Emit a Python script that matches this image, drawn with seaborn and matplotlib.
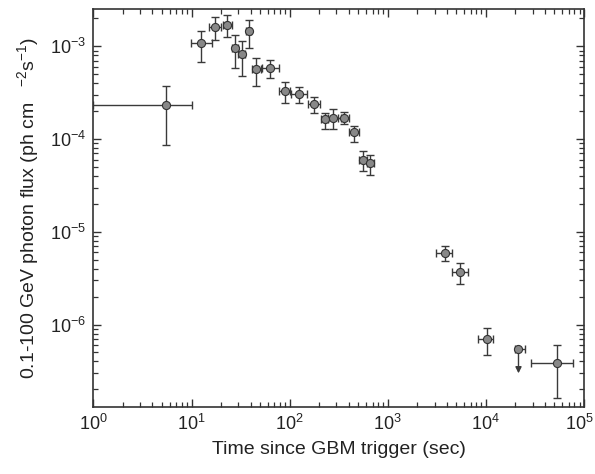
import matplotlib
matplotlib.use("Agg")
import matplotlib.pyplot as plt
import matplotlib.transforms as mtransforms
import seaborn as sns
import pandas as pd
import numpy as np

# detections: time since trigger (sec) with bin edges, flux with 1-sigma bounds
time = [5.55, 12.6, 17.5, 22.8, 27.5, 32.7, 38.3, 45.5, 63.4, 88.9, 126, 178,
        229, 279, 356, 454, 554, 663, 3790, 5450, 10300, 52500]
time_lo = [1.0, 9.95, 15.2, 20.7, 25.6, 30.0, 35.9, 41.0, 52.0, 77.0, 104, 154,
           208, 248, 314, 404, 504, 608, 3080, 4510, 8400, 29000]
time_hi = [10.0, 16.0, 20.2, 25.6, 30.0, 35.3, 40.4, 51.2, 77.0, 102, 152, 205,
           248, 334, 404, 511, 608, 723, 4480, 6530, 11900, 76400]
flux = [2.32e-4, 1.08e-3, 1.63e-3, 1.70e-3, 9.6e-4, 8.3e-4, 1.45e-3, 5.65e-4,
        5.85e-4, 3.31e-4, 3.04e-4, 2.40e-4, 1.63e-4, 1.69e-4, 1.69e-4, 1.18e-4,
        5.98e-5, 5.50e-5, 5.97e-6, 3.73e-6, 6.97e-7, 3.84e-7]
flux_lo = [8.7e-5, 6.8e-4, 1.17e-3, 1.25e-3, 5.9e-4, 4.8e-4, 9.6e-4, 3.75e-4,
           4.57e-4, 2.43e-4, 2.46e-4, 1.93e-4, 1.28e-4, 1.30e-4, 1.44e-4, 9.35e-5,
           4.48e-5, 4.08e-5, 4.9e-6, 2.74e-6, 4.64e-7, 1.63e-7]
flux_hi = [3.77e-4, 1.45e-3, 2.09e-3, 2.16e-3, 1.34e-3, 1.15e-3, 1.92e-3, 7.5e-4,
           7.14e-4, 4.17e-4, 3.62e-4, 2.85e-4, 1.93e-4, 2.10e-4, 1.95e-4, 1.39e-4,
           7.36e-5, 6.82e-5, 7.03e-6, 4.66e-6, 9.2e-7, 6.05e-7]

# upper limit bin
ul_time = [21500]
ul_time_lo = [19600]
ul_time_hi = [25300]
ul_flux = [5.43e-7]
ul_arrow_end = [2.98e-7]

xticks = [1, 10, 100, 1e3, 1e4, 1e5]
yticks = [1e-6, 1e-5, 1e-4, 1e-3]

df = pd.DataFrame({"time": time, "flux": flux})
df_ul = pd.DataFrame({"time": ul_time, "flux": ul_flux})

sns.set_style("ticks")
plt.rcParams["font.family"] = ["Liberation Sans", "DejaVu Sans"]
plt.rcParams["mathtext.fontset"] = "custom"
plt.rcParams["mathtext.rm"] = "Liberation Sans"
plt.rcParams["mathtext.it"] = "Liberation Sans"
plt.rcParams["mathtext.default"] = "regular"

fig = plt.figure(figsize=(5.95, 4.74), dpi=100)
ax = fig.add_axes([0.157, 0.142, 0.8245, 0.838])

ecol = "#3a3a3a"
t = np.array(time)
f = np.array(flux)
ax.errorbar(t, f,
            xerr=[t - np.array(time_lo), np.array(time_hi) - t],
            yerr=[f - np.array(flux_lo), np.array(flux_hi) - f],
            fmt="none", ecolor=ecol, elinewidth=1.0, capsize=3, capthick=1.0, zorder=2)

ut = np.array(ul_time)
ax.errorbar(ut, ul_flux, xerr=[ut - np.array(ul_time_lo), np.array(ul_time_hi) - ut],
            fmt="none", ecolor=ecol, elinewidth=1.0, capsize=3, capthick=1.0, zorder=2)
for x, y0, y1 in zip(ul_time, ul_flux, ul_arrow_end):
    ax.annotate("", xy=(x, y1), xytext=(x, y0),
                arrowprops=dict(arrowstyle="-|>", color=ecol, lw=1.0,
                                mutation_scale=9, shrinkA=0, shrinkB=0), zorder=2)

sns.scatterplot(data=df, x="time", y="flux", ax=ax, s=34, color="#888888",
                edgecolor="#333333", linewidth=0.8, zorder=3, legend=False)
sns.scatterplot(data=df_ul, x="time", y="flux", ax=ax, s=34, color="#888888",
                edgecolor="#333333", linewidth=0.8, zorder=3, legend=False)

ax.set_xscale("log")
ax.set_yscale("log")
ax.set_xlim(1, 1e5)
ax.set_ylim(1.3e-7, 2.5e-3)
ax.set_xticks(xticks)
ax.set_yticks(yticks)

ax.set_xlabel("Time since GBM trigger (sec)", fontsize=14, color="#222222", labelpad=5)
ax.set_ylabel(r"0.1-100 GeV photon flux (ph cm   $^{-2}$s$^{-1}$)", fontsize=14,
              color="#222222", labelpad=7)

ax.tick_params(which="both", direction="in", top=True, right=True, colors="#333333")
ax.tick_params(which="major", length=6, width=1.0, labelsize=13, pad=5,
               labelcolor="#222222")
ax.tick_params(which="minor", length=3.5, width=0.9)
for s in ax.spines.values():
    s.set_color("#333333")
    s.set_linewidth(1.2)

# nudge the last x tick label so it stays inside the canvas
lab = ax.xaxis.get_major_ticks()[-1].label1
lab.set_transform(lab.get_transform() +
                  mtransforms.ScaledTranslation(-5 / 100, 0, fig.dpi_scale_trans))

fig.savefig("out.png", dpi=100)
